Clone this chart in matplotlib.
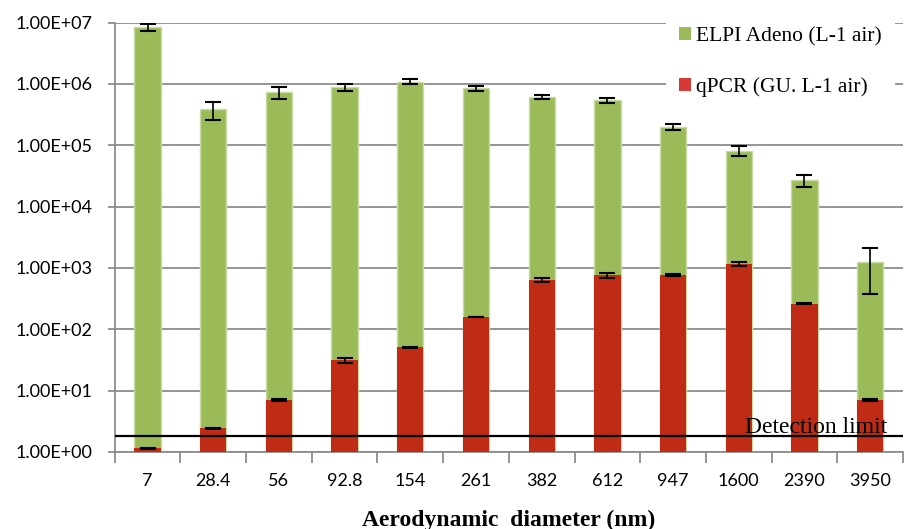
import matplotlib
matplotlib.use("Agg")
import matplotlib.pyplot as plt
import numpy as np
from matplotlib.ticker import FixedLocator, FuncFormatter
from matplotlib.patches import Patch

categories = ["7", "28.4", "56", "92.8", "154", "261", "382", "612", "947", "1600", "2390", "3950"]
elpi = [8.4e6, 3.87e5, 7.3e5, 8.9e5, 1.09e6, 8.6e5, 6.2e5, 5.4e5, 2.01e5, 8.2e4, 2.72e4, 1.23e3]
elpi_err = [1.0e6, 1.25e5, 1.6e5, 1.1e5, 1.0e5, 8.5e4, 5.2e4, 5.0e4, 2.1e4, 1.4e4, 6.0e3, 8.5e2]
qpcr = [1.15, 2.43, 7.0, 31.5, 51.0, 158, 635, 766, 766, 1160, 258, 7.0]
qpcr_err = [0.02, 0.05, 0.15, 3.0, 1.0, 2.0, 50, 70, 20, 100, 5.0, 0.15]
detection_limit = 1.83

green = "#9BBB59"
green_edge = "#C8DBA6"
red = "#C02B15"
grid_c = "#8C8C8C"

fig = plt.figure(figsize=(9.06, 5.29), dpi=100)
ax = fig.add_axes([114.7 / 906, 1 - 451.8 / 529, (903 - 114.7) / 906, (451.8 - 22.7) / 529])

x = np.arange(len(categories))
w = 0.4
ax.bar(x, elpi, width=w, bottom=0, color=green, edgecolor=green_edge, linewidth=1.0, zorder=2)
ax.bar(x, qpcr, width=w, color=red, edgecolor="none", zorder=3)
ax.errorbar(x, elpi, yerr=elpi_err, fmt="none", ecolor="black", elinewidth=1.2, capsize=6, capthick=1.5, zorder=4)
ax.errorbar(x, qpcr, yerr=qpcr_err, fmt="none", ecolor="black", elinewidth=1.2, capsize=6, capthick=1.5, zorder=4)

ax.set_yscale("log")
ax.set_ylim(1, 1e7)
ax.set_xlim(-0.5, len(categories) - 0.5)

ax.yaxis.set_major_locator(FixedLocator([10.0 ** k for k in range(8)]))
ax.yaxis.set_minor_locator(FixedLocator([]))
ax.yaxis.set_major_formatter(FuncFormatter(lambda v, p: f"{v:.2E}"))
ax.grid(axis="y", color=grid_c, linewidth=1.3, zorder=0)
ax.set_axisbelow(True)

ax.set_xticks(x)
ax.set_xticklabels(categories)
ax.set_xticks(np.arange(-0.5, len(categories)), minor=True)
ax.tick_params(axis="x", which="major", length=0, pad=15, labelsize=13)
ax.tick_params(axis="x", which="minor", length=8, width=1.3, color=grid_c, direction="out")
ax.tick_params(axis="y", which="major", length=5, width=1.3, color=grid_c, pad=11, labelsize=13)
for lab in ax.get_xticklabels() + ax.get_yticklabels():
    lab.set_fontfamily("Lato")

for s in ["top", "right"]:
    ax.spines[s].set_visible(False)
for s in ["left", "bottom"]:
    ax.spines[s].set_color(grid_c)
    ax.spines[s].set_linewidth(1.3)

ax.axhline(detection_limit, color="black", linewidth=1.6, zorder=5)
ax.text(11.255, 2.0, "Detection limit", ha="right", va="baseline", fontsize=17,
        family="Liberation Serif", zorder=6)

handles = [Patch(facecolor=green, edgecolor="none"), Patch(facecolor="#D63A36", edgecolor="none")]
leg = fig.legend(handles, ["ELPI Adeno (L-1 air)", "qPCR (GU. L-1 air)"],
                 loc="upper left", bbox_to_anchor=(666 / 906, 1 - 14 / 529),
                 prop={"family": "Liberation Serif", "size": 15.5},
                 frameon=True, fancybox=False, edgecolor="none", facecolor="white", framealpha=1,
                 handlelength=0.55, handleheight=0.55, handletextpad=0.25, labelspacing=1.45,
                 borderpad=0.6, borderaxespad=0)

fig.text(509 / 906, 1 - 520 / 529, "Aerodynamic  diameter (nm)", ha="center", va="center",
         fontsize=17, fontweight="bold", family="Liberation Serif")

fig.savefig("out.png", dpi=100)
